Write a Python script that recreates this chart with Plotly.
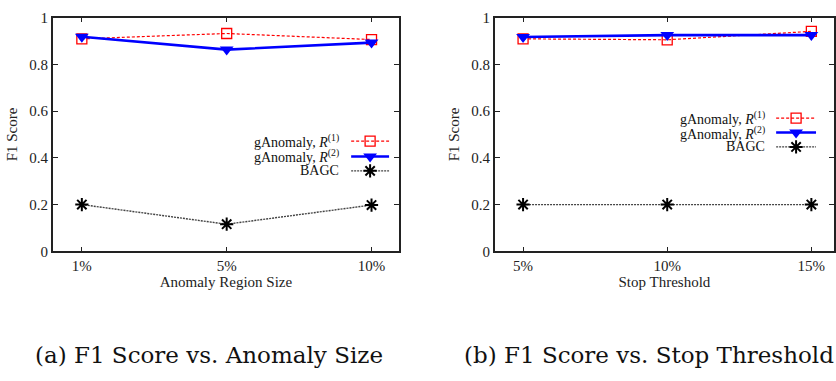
import plotly.graph_objects as go

# ---- data -------------------------------------------------------------
size_labels = ["1%", "5%", "10%"]
size_r1 = [0.909, 0.932, 0.906]
size_r2 = [0.918, 0.863, 0.893]
size_bagc = [0.200, 0.116, 0.198]

thr_labels = ["5%", "10%", "15%"]
thr_r1 = [0.909, 0.905, 0.941]
thr_r2 = [0.917, 0.925, 0.925]
thr_bagc = [0.200, 0.200, 0.200]

series_names = ["gAnomaly, <i>R</i><sup>(1)</sup>",
                "gAnomaly, <i>R</i><sup>(2)</sup>",
                "BAGC"]
y_ticks = [0, 0.2, 0.4, 0.6, 0.8, 1]
y_ticktext = ["0", "0.2", "0.4", "0.6", "0.8", "1"]

captions = ["(a) F1 Score vs. Anomaly Size", "(b) F1 Score vs. Stop Threshold"]

# ---- styles -----------------------------------------------------------
W, H = 836, 381
SERIF = "Liberation Serif, Times New Roman, serif"
styles = [
    dict(line=dict(color="#ff0000", width=1.2, dash="3px,2px"),
         marker=dict(symbol="square-open", size=10, color="#ff0000",
                     line=dict(width=1.3, color="#ff0000"))),
    dict(line=dict(color="#0000ff", width=2.6),
         marker=dict(symbol="triangle-down", size=12, color="#0000ff",
                     line=dict(width=0))),
    dict(line=dict(color="#444444", width=1.4, dash="2px,1px"),
         marker=dict(symbol="asterisk-open", size=11, color="#000000",
                     line=dict(width=2, color="#000000"))),
]

fig = go.Figure()

panels = [
    ("x", "y", size_r1, size_r2, size_bagc),
    ("x2", "y2", thr_r1, thr_r2, thr_bagc),
]
for xa, ya, r1, r2, bagc in panels:
    for vals, st in zip([r1, r2, bagc], styles):
        fig.add_trace(go.Scatter(
            x=list(range(len(vals))), y=vals, mode="lines+markers",
            xaxis=xa, yaxis=ya, showlegend=False, hoverinfo="skip",
            line=st["line"], marker=st["marker"], cliponaxis=False))

# ---- gnuplot-style key: text right-aligned, sample to its right ---------
# overlay axes in pixel units for placing the key samples
keys = [
    dict(text_right=342, x0=352, x1=390, rows=[139, 155, 170]),
    dict(text_right=769, x0=778, x1=818, rows=[115, 130, 145]),
]
annotations = []
for k in keys:
    for name, st, yr in zip(series_names, styles, k["rows"]):
        fig.add_trace(go.Scatter(
            x=[k["x0"], k["x1"]], y=[yr, yr], mode="lines",
            xaxis="x3", yaxis="y3", showlegend=False, hoverinfo="skip",
            line=st["line"]))
        fig.add_trace(go.Scatter(
            x=[(k["x0"] + k["x1"]) / 2], y=[yr], mode="markers",
            xaxis="x3", yaxis="y3", showlegend=False, hoverinfo="skip",
            marker=st["marker"]))
        annotations.append(dict(
            x=k["text_right"] / W, y=1 - yr / H, xref="paper", yref="paper",
            text=name, showarrow=False, xanchor="right", yanchor="middle",
            font=dict(family=SERIF, size=14, color="#111111")))

# sub-figure captions
cap_font = dict(family="DejaVu Serif, serif", size=23, color="#111111")
annotations.append(dict(x=33 / W, y=1 - 362 / H, xref="paper", yref="paper",
                        text=captions[0], showarrow=False, xanchor="left",
                        yanchor="middle", font=cap_font))
annotations.append(dict(x=463 / W, y=1 - 362 / H, xref="paper", yref="paper",
                        text=captions[1], showarrow=False, xanchor="left",
                        yanchor="middle", font=cap_font))

tick_font = dict(family=SERIF, size=15, color="#222222")
title_font = dict(family=SERIF, size=15, color="#222222")
y_dom = [1 - 254 / H, 1 - 10 / H]

common_x = dict(showgrid=False, zeroline=False, showline=True, linewidth=1.5,
                linecolor="#222222", mirror="ticks", ticks="inside",
                ticklen=5, tickwidth=1, tickcolor="#222222",
                tickfont=tick_font, tickvals=[0, 1, 2], fixedrange=True)
common_y = dict(showgrid=False, zeroline=False, showline=True, linewidth=1.5,
                linecolor="#222222", mirror="ticks", ticks="inside",
                ticklen=5, tickwidth=1, tickcolor="#222222",
                tickfont=tick_font, tickvals=y_ticks, ticktext=y_ticktext,
                range=[0, 1], domain=y_dom, fixedrange=True)

fig.update_layout(
    width=W, height=H, margin=dict(l=0, r=0, t=0, b=0),
    paper_bgcolor="white", plot_bgcolor="rgba(0,0,0,0)",
    xaxis=dict(common_x, domain=[53 / W, 400 / W], range=[-0.2, 2.19],
               ticktext=size_labels, anchor="y",
               title=dict(text="Anomaly Region Size", font=title_font,
                          standoff=2)),
    yaxis=dict(common_y, anchor="x",
               title=dict(text="F1 Score", font=title_font, standoff=8)),
    xaxis2=dict(common_x, domain=[496 / W, 1.0], range=[-0.196, 2.157],
                ticktext=thr_labels, anchor="y2",
                title=dict(text="Stop Threshold", font=title_font,
                           standoff=2)),
    yaxis2=dict(common_y, anchor="x2",
                title=dict(text="F1 Score", font=title_font, standoff=8)),
    xaxis3=dict(domain=[0, 1], range=[0, W], visible=False, fixedrange=True,
                anchor="y3"),
    yaxis3=dict(domain=[0, 1], range=[H, 0], visible=False, fixedrange=True,
                anchor="x3"),
    annotations=annotations,
    showlegend=False,
)

fig.write_html("out.html")
